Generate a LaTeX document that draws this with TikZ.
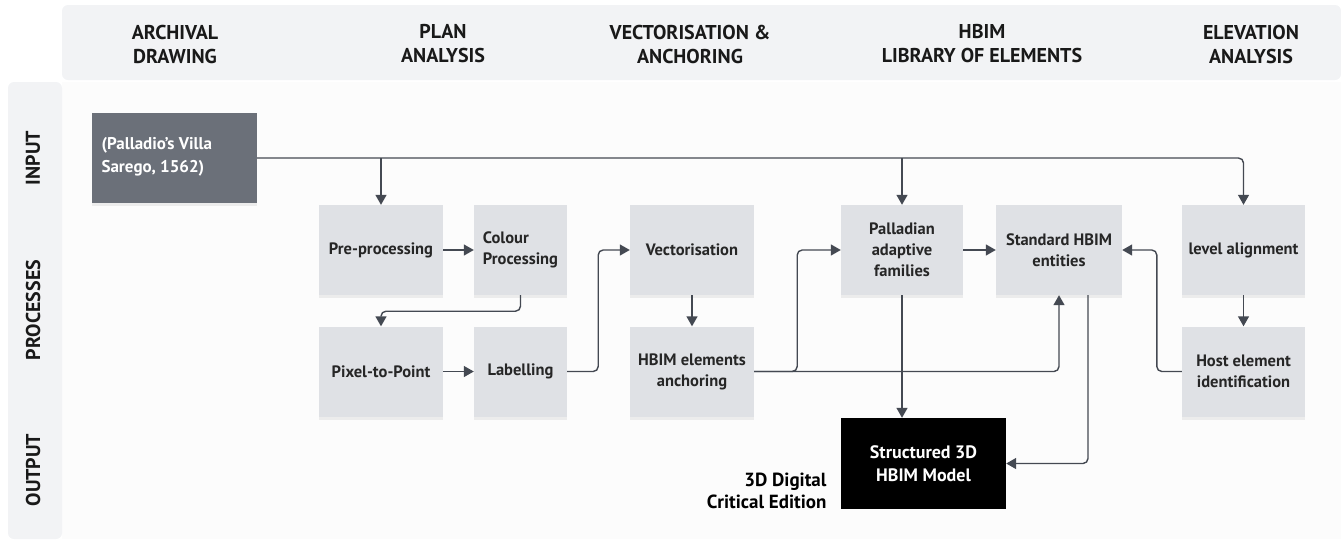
\documentclass[tikz,border=0pt]{standalone}
\usepackage{fontspec}
\setmainfont{PT Sans}
\usetikzlibrary{arrows.meta}
\usetikzlibrary{shadows}

\definecolor{bandGray}{HTML}{F2F3F5}
\definecolor{bodyGray}{HTML}{FCFCFC}
\definecolor{boxGray}{HTML}{DFE1E5}
\definecolor{inputGray}{HTML}{6B7079}
\definecolor{lineGray}{HTML}{444952}

\begin{document}
\begin{tikzpicture}[x = 1pt, y = -1pt, font=\bfseries]
	\tikzstyle{headStyle} = [align = center, font = \fontsize{20}{24}\selectfont\bfseries, text = black!90]
	\tikzstyle{rowStyle} = [rotate = 90, font = \fontsize{20}{24}\selectfont\bfseries, text = black!90]
	\tikzstyle{procStyle} = [shape = rectangle, fill = boxGray, minimum width = 124pt, minimum height = 90pt, inner sep = 0pt, align = center, font = \fontsize{16.5}{21}\selectfont\bfseries, text = black!85, drop shadow = {opacity = 0.12, shadow xshift = 0pt, shadow yshift = -3pt}]
	\tikzstyle{narrowStyle} = [procStyle, minimum width = 93pt]
	\tikzstyle{arrowStyle} = [draw = lineGray, line width = 1.4pt, rounded corners = 5pt, -{Triangle[width = 11pt, length = 10pt]}]
	\useasboundingbox (0,0) rectangle (1341,539);
	% bands
	\fill[bodyGray] (62,82) rectangle (1341,539);
	\fill[bandGray, rounded corners = 6pt] (62,5) rectangle (1341,80);
	\fill[bandGray, rounded corners = 6pt] (8,82) -- (62,82) -- (62,539) -- (8,539) -- cycle;
	% column headings
	\node[headStyle] (hArchive) at (175,44) {ARCHIVAL\\DRAWING};
	\node[headStyle] (hPlan) at (443,44) {PLAN\\ANALYSIS};
	\node[headStyle] (hVector) at (690,44) {VECTORISATION \&\\ANCHORING};
	\node[headStyle] (hLibrary) at (982,44) {HBIM\\LIBRARY OF ELEMENTS};
	\node[headStyle] (hElevation) at (1251,44) {ELEVATION\\ANALYSIS};
	% row headings
	\node[rowStyle] (rInput) at (33,158) {INPUT};
	\node[rowStyle] (rProcess) at (33,310) {PROCESSES};
	\node[rowStyle] (rOutput) at (33,470) {OUTPUT};
	% nodes
	\node[shape = rectangle, fill = inputGray, minimum width = 165pt, minimum height = 90pt, inner sep = 0pt, drop shadow = {opacity = 0.12, shadow xshift = 0pt, shadow yshift = -3pt}] (inputBox) at (174.5,158) {};
	\node[anchor = west, align = left, text = white, font = \fontsize{17}{23}\selectfont\bfseries] (inputText) at (98,157) {(Palladio's Villa\\Sarego, 1562)};
	\node[procStyle] (preProc) at (381,250) {Pre-processing};
	\node[narrowStyle, align = left] (colourProc) at (520.5,250) {Colour\\Processing};
	\node[procStyle] (pixelPoint) at (381,371.5) {Pixel-to-Point};
	\node[narrowStyle] (labelling) at (520.5,371.5) {Labelling};
	\node[procStyle] (vector) at (692,250) {Vectorisation};
	\node[procStyle] (anchoring) at (692,371.5) {HBIM elements\\anchoring};
	\node[procStyle, minimum width = 122pt] (palladian) at (902,250) {Palladian\\adaptive\\families};
	\node[procStyle, minimum width = 126pt] (standard) at (1059,250) {Standard HBIM\\entities};
	\node[procStyle, minimum width = 123pt] (levelAlign) at (1243.5,250) {level alignment};
	\node[procStyle, minimum width = 123pt] (hostElem) at (1243.5,371.5) {Host element\\identification};
	\node[shape = rectangle, fill = black, minimum width = 165pt, minimum height = 91pt, inner sep = 0pt, align = center, text = white, font = \fontsize{18}{23}\selectfont\bfseries] (model) at (923.5,463.5) {Structured 3D\\HBIM Model};
	\node[anchor = east, align = right, font = \fontsize{19}{22}\selectfont\bfseries] (edition) at (830,491) {3D Digital\\Critical Edition};
	% connectors
	\draw[arrowStyle] (inputBox.east) -| (levelAlign.north);
	\draw[arrowStyle] (preProc.north |- inputBox.east) -- (preProc.north);
	\draw[arrowStyle] (palladian.north |- inputBox.east) -- (palladian.north);
	\draw[arrowStyle] (preProc) -- (colourProc);
	\draw[arrowStyle] (colourProc.south) -- ++(0,16) -| (pixelPoint.north);
	\draw[arrowStyle] (pixelPoint) -- (labelling);
	\draw[arrowStyle] (labelling.east) -- ++(31,0) |- (vector.west);
	\draw[arrowStyle] (vector) -- (anchoring);
	\draw[arrowStyle] (anchoring.east) -- ++(43,0) |- (palladian.west);
	\draw[arrowStyle] (anchoring.east) -| (standard.south);
	\draw[arrowStyle] (palladian) -- (standard);
	\draw[arrowStyle] (palladian.south) -- (palladian.south |- model.north);
	\draw[arrowStyle] ([xshift = 29pt]standard.south) |- (model.east);
	\draw[arrowStyle] (levelAlign) -- (hostElem);
	\draw[arrowStyle] (hostElem.west) -- ++(-25,0) |- (standard.east);
\end{tikzpicture}
\end{document}
